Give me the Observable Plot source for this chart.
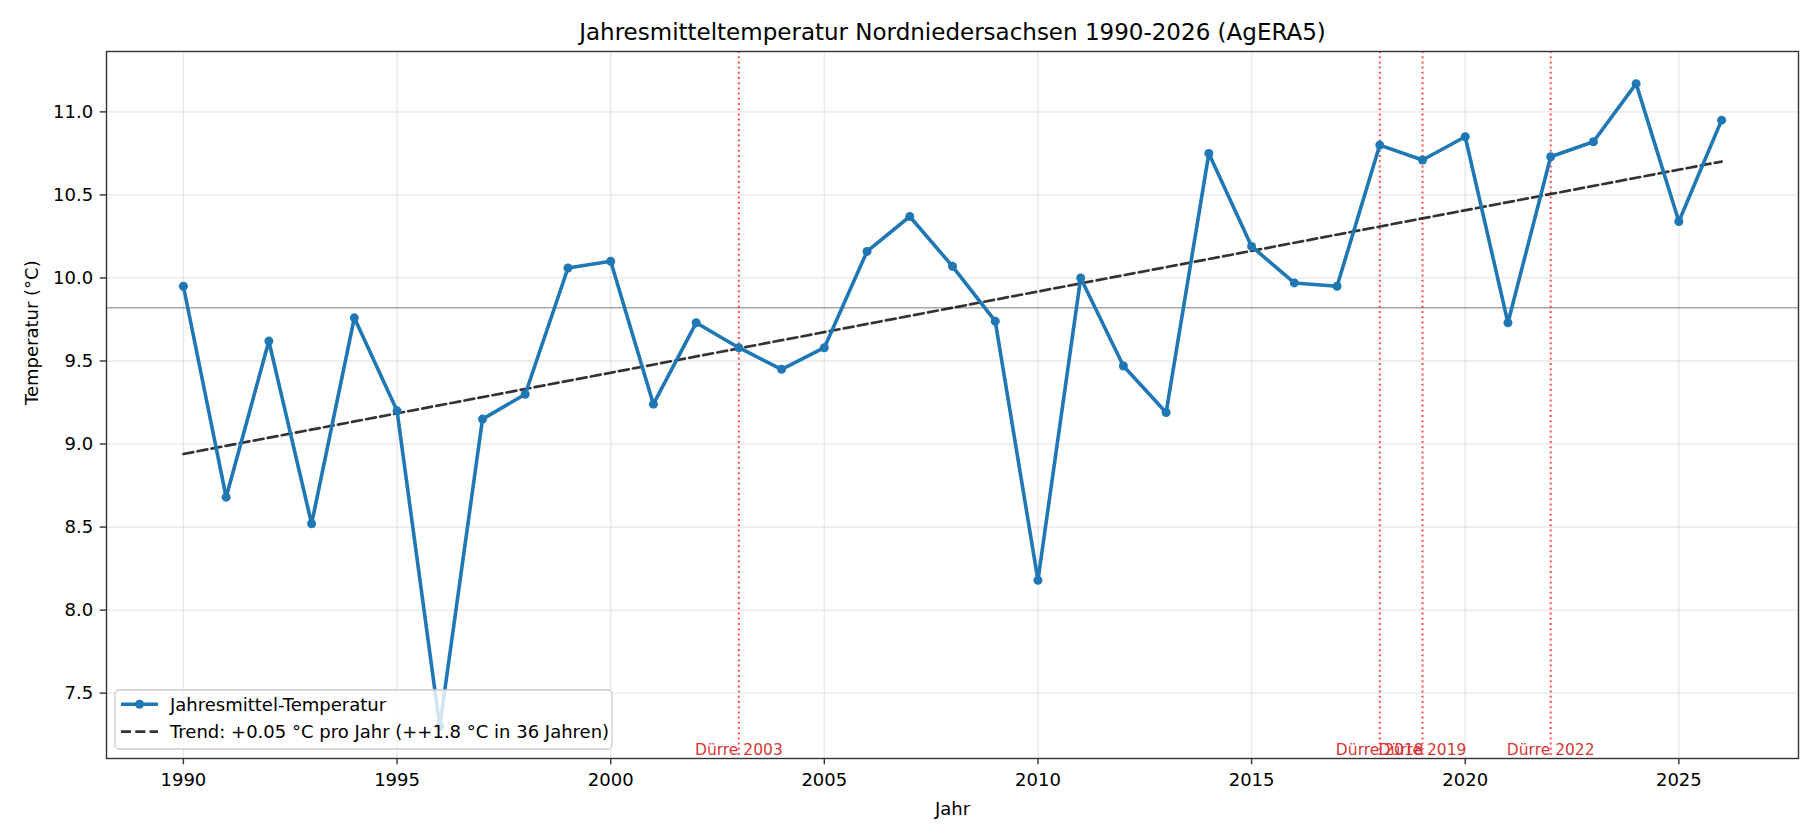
<!DOCTYPE html>
<html>
<head>
<meta charset="utf-8">
<script src="https://cdn.jsdelivr.net/npm/d3@7"></script>
<script src="https://cdn.jsdelivr.net/npm/@observablehq/plot@0.6"></script>
<style>
  html, body { margin: 0; padding: 0; background: #fff; }
  #chart svg { display: block; }
</style>
</head>
<body>
<div id="chart"></div>
<script>
// ---- Data ----
const years = [1990,1991,1992,1993,1994,1995,1996,1997,1998,1999,2000,2001,2002,2003,2004,2005,2006,2007,2008,2009,2010,2011,2012,2013,2014,2015,2016,2017,2018,2019,2020,2021,2022,2023,2024,2025,2026];
const temps = [9.95,8.68,9.62,8.52,9.76,9.20,7.30,9.15,9.30,10.06,10.10,9.24,9.73,9.58,9.45,9.58,10.16,10.37,10.07,9.74,8.18,10.00,9.47,9.19,10.75,10.19,9.97,9.95,10.80,10.71,10.85,9.73,10.73,10.82,11.17,10.34,10.95];
const droughtYears = [2003, 2018, 2019, 2022];
const droughtLabels = ["Dürre 2003", "Dürre 2018", "Dürre 2019", "Dürre 2022"];
const xTicks = [1990, 1995, 2000, 2005, 2010, 2015, 2020, 2025];
const yTicks = [7.5, 8.0, 8.5, 9.0, 9.5, 10.0, 10.5, 11.0];
const seriesLabels = ["Jahresmittel-Temperatur", "Trend: +0.05 °C pro Jahr (++1.8 °C in 36 Jahren)"];
const titleText = "Jahresmitteltemperatur Nordniedersachsen 1990-2026 (AgERA5)";
const xLabel = "Jahr";
const yLabel = "Temperatur (°C)";

// ---- Derived ----
const data = years.map((year, i) => ({year, temp: temps[i]}));
const mx = d3.mean(years), my = d3.mean(temps);
const slope = d3.sum(years, (x, i) => (x - mx) * (temps[i] - my)) / d3.sum(years, x => (x - mx) ** 2);
const intercept = my - slope * mx;
const [x0, x1] = d3.extent(years);
const trend = [x0, x1].map(year => ({year, temp: intercept + slope * year}));
const xPad = (x1 - x0) * 0.05;
const [ymin, ymax] = d3.extent(temps);
const yPad = (ymax - ymin) * 0.05;
const meanTemp = d3.mean(temps);

const W = 1820, H = 840, mL = 106, mR = 22, mT = 51, mB = 82;
const FONT = "'DejaVu Sans', sans-serif";
const BLUE = "#1f77b4";

const chart = Plot.plot({
  width: W, height: H,
  marginLeft: mL, marginRight: mR, marginTop: mT, marginBottom: mB,
  style: {fontFamily: FONT, fontSize: "18px", background: "#fff", color: "#000", overflow: "visible"},
  x: {domain: [x0 - xPad, x1 + xPad]},
  y: {domain: [ymin - yPad, ymax + yPad]},
  marks: [
    Plot.gridX(xTicks, {stroke: "#b0b0b0", strokeOpacity: 0.3, strokeWidth: 1.3}),
    Plot.gridY(yTicks, {stroke: "#b0b0b0", strokeOpacity: 0.3, strokeWidth: 1.3}),
    Plot.ruleY([meanTemp], {stroke: "#808080", strokeOpacity: 0.7, strokeWidth: 1.4}),
    Plot.ruleX(droughtYears, {stroke: "red", strokeOpacity: 0.7, strokeWidth: 2, strokeDasharray: "2,3.2"}),
    Plot.line(trend, {x: "year", y: "temp", stroke: "#000", strokeOpacity: 0.8, strokeWidth: 2.7, strokeDasharray: "10,4.3"}),
    Plot.line(data, {x: "year", y: "temp", stroke: BLUE, strokeWidth: 3.6}),
    Plot.dot(data, {x: "year", y: "temp", r: 4.5, fill: BLUE}),
    Plot.text(droughtYears, {x: d => d, text: (d, i) => droughtLabels[i], frameAnchor: "bottom", dy: -4, lineAnchor: "bottom", fill: "#d62728", fillOpacity: 0.95, fontSize: 15.5}),
    Plot.axisX(xTicks, {tickFormat: d => String(d), tickSize: 6.3, tickPadding: 8, stroke: "#333", strokeWidth: 1.4, fill: "#000", fontSize: 18, label: null}),
    Plot.axisY(yTicks, {tickFormat: d => d.toFixed(1), tickSize: 6.3, tickPadding: 7, stroke: "#333", strokeWidth: 1.4, fill: "#000", fontSize: 18, label: null}),
    Plot.frame({stroke: "#333", strokeWidth: 1.4}),
    Plot.text([titleText], {text: d => d, frameAnchor: "top", dy: -11.7, lineAnchor: "bottom", fontSize: 23, fill: "#000"}),
    Plot.text([xLabel], {text: d => d, frameAnchor: "bottom", dy: 56, lineAnchor: "bottom", fontSize: 18, fill: "#000"}),
    Plot.text([yLabel], {text: d => d, frameAnchor: "left", dx: -74, rotate: -90, fontSize: 18, fill: "#000"})
  ]
});

document.getElementById("chart").appendChild(chart);

// ---- Legend (lower left, inside the axes) ----
const svg = d3.select(chart);
const lg = svg.append("g").attr("font-family", FONT).attr("font-size", 18).attr("text-anchor", "start");
const lx = mL + 9, ly = H - mB - 68;
lg.append("rect").attr("x", lx).attr("y", ly).attr("width", 497).attr("height", 59).attr("rx", 4)
  .attr("fill", "#fff").attr("fill-opacity", 0.8).attr("stroke", "#cccccc").attr("stroke-width", 1.3);
const r1 = ly + 14.3, r2 = ly + 41.7;
lg.append("line").attr("x1", lx + 6).attr("x2", lx + 43).attr("y1", r1).attr("y2", r1)
  .attr("stroke", BLUE).attr("stroke-width", 3.6);
lg.append("circle").attr("cx", lx + 24.5).attr("cy", r1).attr("r", 4.5).attr("fill", BLUE);
lg.append("line").attr("x1", lx + 6).attr("x2", lx + 43).attr("y1", r2).attr("y2", r2)
  .attr("stroke", "#000").attr("stroke-opacity", 0.8).attr("stroke-width", 2.7).attr("stroke-dasharray", "10,4.3");
lg.append("text").attr("x", lx + 55).attr("y", r1).attr("dy", "0.35em").attr("fill", "#000").attr("text-anchor", "start").text(seriesLabels[0]);
lg.append("text").attr("x", lx + 55).attr("y", r2).attr("dy", "0.35em").attr("fill", "#000").attr("text-anchor", "start").text(seriesLabels[1]);
</script>
</body>
</html>
